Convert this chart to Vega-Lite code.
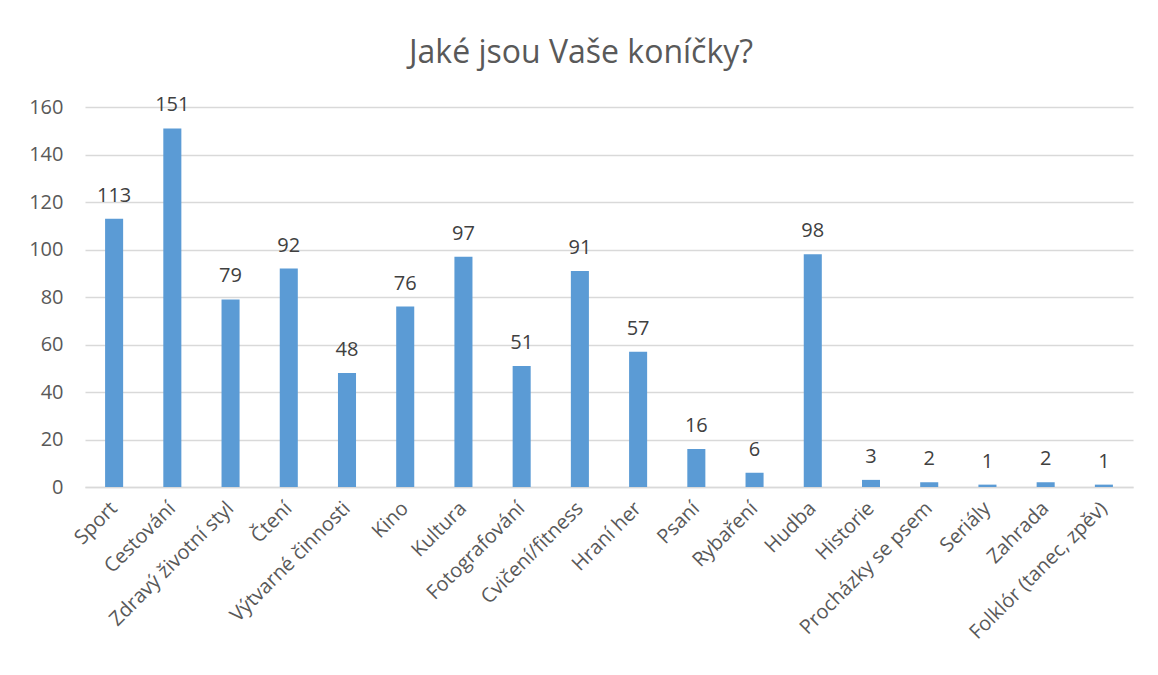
{
  "$schema": "https://vega.github.io/schema/vega-lite/v6.json",
  "autosize": {"type": "none"},
  "width": 1048,
  "height": 380,
  "padding": {"left": 85, "top": 107, "right": 25, "bottom": 188},
  "background": "white",
  "title": {
    "text": "Jaké jsou Vaše koníčky?",
    "font": "Open Sans",
    "fontSize": 32,
    "fontWeight": "normal",
    "color": "#595959",
    "anchor": "middle",
    "dx": -28,
    "offset": 25
  },
  "config": {
    "view": {"stroke": null},
    "font": "Open Sans"
  },
  "data": {
    "values": [
      {"konicek": "Sport", "pocet": 113},
      {"konicek": "Cestování", "pocet": 151},
      {"konicek": "Zdravý životní styl", "pocet": 79},
      {"konicek": "Čtení", "pocet": 92},
      {"konicek": "Výtvarné činnosti", "pocet": 48},
      {"konicek": "Kino", "pocet": 76},
      {"konicek": "Kultura", "pocet": 97},
      {"konicek": "Fotografování", "pocet": 51},
      {"konicek": "Cvičení/fitness", "pocet": 91},
      {"konicek": "Hraní her", "pocet": 57},
      {"konicek": "Psaní", "pocet": 16},
      {"konicek": "Rybaření", "pocet": 6},
      {"konicek": "Hudba", "pocet": 98},
      {"konicek": "Historie", "pocet": 3},
      {"konicek": "Procházky se psem", "pocet": 2},
      {"konicek": "Seriály", "pocet": 1},
      {"konicek": "Zahrada", "pocet": 2},
      {"konicek": "Folklór (tanec, zpěv)", "pocet": 1}
    ]
  },
  "encoding": {
    "x": {
      "field": "konicek",
      "type": "nominal",
      "sort": null,
      "scale": {"paddingInner": 0.69, "paddingOuter": 0.345},
      "axis": {
        "title": null,
        "labelAngle": -45,
        "labelAlign": "right",
        "labelBaseline": "middle",
        "labelFontSize": 20,
        "labelColor": "#595959",
        "labelPadding": 18,
        "labelOverlap": false,
        "ticks": false,
        "domainColor": "#D9D9D9",
        "domainWidth": 1.5,
        "labelLimit": 400
      }
    },
    "y": {
      "field": "pocet",
      "type": "quantitative",
      "scale": {"domain": [0, 160], "nice": false},
      "axis": {
        "title": null,
        "values": [0, 20, 40, 60, 80, 100, 120, 140, 160],
        "labelFontSize": 20,
        "labelColor": "#595959",
        "labelPadding": 22,
        "ticks": false,
        "domain": false,
        "gridColor": "#D9D9D9",
        "gridWidth": 1.5
      }
    }
  },
  "layer": [
    {"mark": {"type": "bar", "color": "#5B9BD5"}},
    {
      "mark": {
        "type": "text",
        "baseline": "alphabetic",
        "dy": -17,
        "fontSize": 20,
        "color": "#404040"
      },
      "encoding": {"text": {"field": "pocet", "type": "quantitative"}}
    }
  ]
}
